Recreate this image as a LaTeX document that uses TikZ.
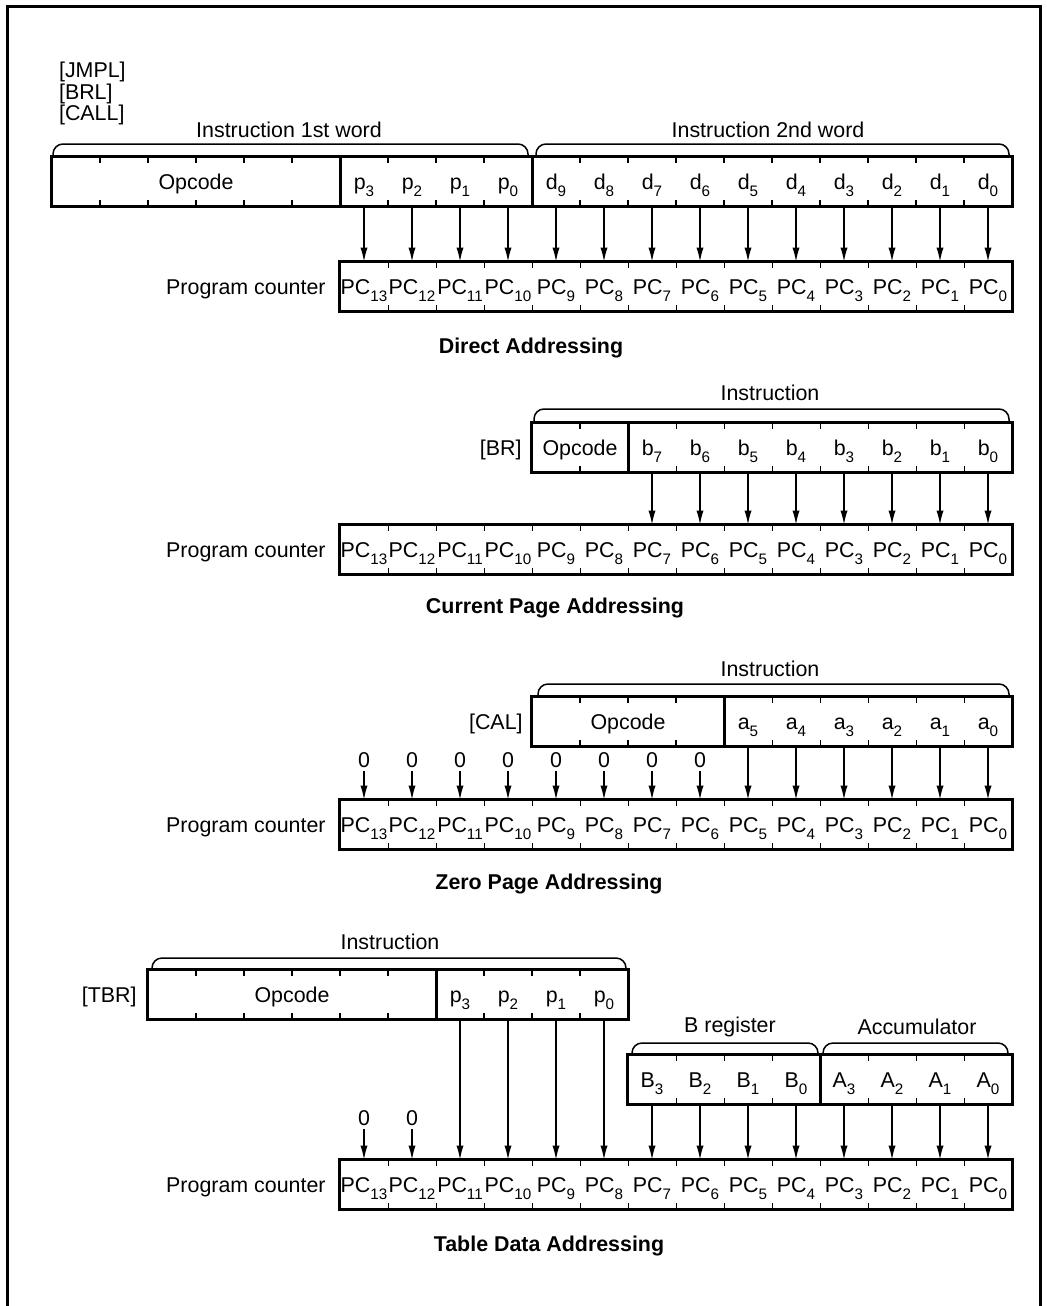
\documentclass[tikz,border=0pt]{standalone}
\usepackage{fontspec}
\setmainfont{Liberation Sans}
\usetikzlibrary{arrows.meta}

% 下标: 比 \textsubscript 大一些, 位置更低
\newcommand{\bitsub}[1]{\raisebox{-0.6ex}{\fontsize{7.6}{9}\selectfont #1}}

\tikzset{
  frame/.style={line width=1.5pt},
  regbox/.style={line width=1.25pt},
  tickmark/.style={line width=0.6pt},
  brace/.style={line width=0.75pt, rounded corners=5pt},
  arr/.style={line width=0.7pt, -{Latex[length=7pt,width=3.6pt]}},
  cell/.style={inner sep=0pt, minimum width=24pt, minimum height=24.5pt, text height=8pt, text depth=0pt},
  zero/.style={inner sep=1.5pt},
  rowlabel/.style={anchor=base east, inner sep=0pt},
  title/.style={font=\fontsize{10.7}{12.8}\selectfont\bfseries},
}

\begin{document}
\begin{tikzpicture}[x=0.5pt, y=-0.5pt, font=\fontsize{10.7}{12.8}\selectfont]
            \useasboundingbox (0,0) rectangle (1046,1306);

            % 外框
            \draw[frame] (7,1306) -- (7,6) -- (1040,6) -- (1040,1306);

            % ---------------- Direct Addressing ----------------
            \node[anchor=west] (jmpl) at (52,72) {[JMPL]};
            \node[anchor=west] (brl) at (52,94) {[BRL]};
            \node[anchor=west] (call) at (52,115) {[CALL]};
            \node (wordA) at (289,130) {Instruction 1st word};
            \node (wordB) at (768,130) {Instruction 2nd word};
            \draw[brace] (53,157) -- (53,144) -- (528,144) -- (528,157);
            \draw[brace] (536,157) -- (536,144) -- (1009,144) -- (1009,157);

            % 指令字
            \node[cell, minimum width=144pt] (opA) at (196,181.5) {Opcode};
            \foreach \b [count=\c from 0] in {3,2,1,0} {
                \node[cell] (p-\b) at ({364+48*\c},181.5) {p\bitsub{\b}};
            }
            \foreach \b [count=\c from 0] in {9,8,7,6,5,4,3,2,1,0} {
                \node[cell] (d-\b) at ({556+48*\c},181.5) {d\bitsub{\b}};
            }
            \draw[regbox] (opA.north west) rectangle (d-0.south east);
            \draw[regbox] (opA.north east) -- (opA.south east);
            \draw[regbox] (p-0.north east) -- (p-0.south east);
            \foreach \x in {100,148,196,244,292,388,436,484,580,628,676,724,772,820,868,916,964} {
                \draw[tickmark] (\x,157) -- (\x,163);
                \draw[tickmark] (\x,206) -- (\x,200);
            }

            % 程序计数器
            \node[rowlabel] (pclA) at (326,294.5) {Program counter};
            \foreach \k in {0,...,13} {
                \node[cell] (pcA-\k) at ({364+48*(13-\k)},286.5) {PC\bitsub{\k}};
            }
            \draw[regbox] (pcA-13.north west) rectangle (pcA-0.south east);
            \foreach \k in {1,...,13} {
                \draw[tickmark] (pcA-\k.north east) -- ++(0,6);
                \draw[tickmark] (pcA-\k.south east) -- ++(0,-6);
            }

            % 箭头
            \foreach \b/\k in {3/13,2/12,1/11,0/10} {
                \draw[arr] (p-\b.south) -- (pcA-\k.north);
            }
            \foreach \b in {0,...,9} {
                \draw[arr] (d-\b.south) -- (pcA-\b.north);
            }
            \node[title] (titleA) at (531,348) {Direct Addressing};

            % ---------------- Current Page Addressing ----------------
            \node (instB) at (770,393) {Instruction};
            \draw[brace] (534,423) -- (534,409) -- (1009,409) -- (1009,423);
            \node[rowlabel] (br) at (522,455.5) {[BR]};
            \node[cell, minimum width=48pt] (opB) at (580,447.5) {Opcode};
            \foreach \b [count=\c from 0] in {7,6,5,4,3,2,1,0} {
                \node[cell] (b-\b) at ({652+48*\c},447.5) {b\bitsub{\b}};
            }
            \draw[regbox] (opB.north west) rectangle (b-0.south east);
            \draw[regbox] (opB.north east) -- (opB.south east);
            \draw[tickmark] (580,423) -- (580,429);
            \draw[tickmark] (580,472) -- (580,466);
            \foreach \b in {1,...,7} {
                \draw[tickmark] (b-\b.north east) -- ++(0,6);
                \draw[tickmark] (b-\b.south east) -- ++(0,-6);
            }

            \node[rowlabel] (pclB) at (326,557.5) {Program counter};
            \foreach \k in {0,...,13} {
                \node[cell] (pcB-\k) at ({364+48*(13-\k)},549.5) {PC\bitsub{\k}};
            }
            \draw[regbox] (pcB-13.north west) rectangle (pcB-0.south east);
            \foreach \k in {1,...,13} {
                \draw[tickmark] (pcB-\k.north east) -- ++(0,6);
                \draw[tickmark] (pcB-\k.south east) -- ++(0,-6);
            }
            \foreach \b in {0,...,7} {
                \draw[arr] (b-\b.south) -- (pcB-\b.north);
            }
            \node[title] (titleB) at (555,608) {Current Page Addressing};

            % ---------------- Zero Page Addressing ----------------
            \node (instC) at (770,669) {Instruction};
            \draw[brace] (538,697) -- (538,684) -- (1009,684) -- (1009,697);
            \node[rowlabel] (cal) at (523,729.5) {[CAL]};
            \node[cell, minimum width=96pt] (opC) at (628,721.5) {Opcode};
            \foreach \b [count=\c from 0] in {5,4,3,2,1,0} {
                \node[cell] (a-\b) at ({748+48*\c},721.5) {a\bitsub{\b}};
            }
            \draw[regbox] (opC.north west) rectangle (a-0.south east);
            \draw[regbox] (opC.north east) -- (opC.south east);
            \foreach \x in {580,628,676} {
                \draw[tickmark] (\x,697) -- (\x,703);
                \draw[tickmark] (\x,746) -- (\x,740);
            }
            \foreach \b in {1,...,5} {
                \draw[tickmark] (a-\b.north east) -- ++(0,6);
                \draw[tickmark] (a-\b.south east) -- ++(0,-6);
            }

            \node[rowlabel] (pclC) at (326,832.5) {Program counter};
            \foreach \k in {0,...,13} {
                \node[cell] (pcC-\k) at ({364+48*(13-\k)},824.5) {PC\bitsub{\k}};
            }
            \draw[regbox] (pcC-13.north west) rectangle (pcC-0.south east);
            \foreach \k in {1,...,13} {
                \draw[tickmark] (pcC-\k.north east) -- ++(0,6);
                \draw[tickmark] (pcC-\k.south east) -- ++(0,-6);
            }
            % 高位补 0
            \foreach \k in {6,...,13} {
                \node[zero] (zC-\k) at ({364+48*(13-\k)},760) {0};
                \draw[arr] (zC-\k.south) -- (pcC-\k.north);
            }
            \foreach \b in {0,...,5} {
                \draw[arr] (a-\b.south) -- (pcC-\b.north);
            }
            \node[title] (titleC) at (549,884) {Zero Page Addressing};

            % ---------------- Table Data Addressing ----------------
            \node (instD) at (390,942) {Instruction};
            \draw[brace] (152,970) -- (152,958) -- (626,958) -- (626,970);
            \node[rowlabel] (tbr) at (137,1002.5) {[TBR]};
            \node[cell, minimum width=144pt] (opD) at (292,994.5) {Opcode};
            \foreach \b [count=\c from 0] in {3,2,1,0} {
                \node[cell] (tp-\b) at ({460+48*\c},994.5) {p\bitsub{\b}};
            }
            \draw[regbox] (opD.north west) rectangle (tp-0.south east);
            \draw[regbox] (opD.north east) -- (opD.south east);
            \foreach \x in {196,244,292,340,388,484,532,580} {
                \draw[tickmark] (\x,970) -- (\x,976);
                \draw[tickmark] (\x,1019) -- (\x,1013);
            }

            % B 寄存器和累加器
            \node (breg) at (730,1027) {B register};
            \node (accu) at (917,1027) {Accumulator};
            \draw[brace] (632,1055) -- (632,1043) -- (818,1043) -- (818,1055);
            \draw[brace] (823,1055) -- (823,1043) -- (1008,1043) -- (1008,1055);
            \foreach \b [count=\c from 0] in {3,2,1,0} {
                \node[cell] (rb-\b) at ({652+48*\c},1079.5) {B\bitsub{\b}};
                \node[cell] (ac-\b) at ({844+48*\c},1079.5) {A\bitsub{\b}};
            }
            \draw[regbox] (rb-3.north west) rectangle (ac-0.south east);
            \draw[regbox] (rb-0.north east) -- (rb-0.south east);
            \foreach \b in {1,2,3} {
                \draw[tickmark] (rb-\b.north east) -- ++(0,6);
                \draw[tickmark] (rb-\b.south east) -- ++(0,-6);
                \draw[tickmark] (ac-\b.north east) -- ++(0,6);
                \draw[tickmark] (ac-\b.south east) -- ++(0,-6);
            }

            \node[rowlabel] (pclD) at (326,1192.5) {Program counter};
            \foreach \k in {0,...,13} {
                \node[cell] (pcD-\k) at ({364+48*(13-\k)},1184.5) {PC\bitsub{\k}};
            }
            \draw[regbox] (pcD-13.north west) rectangle (pcD-0.south east);
            \foreach \k in {1,...,13} {
                \draw[tickmark] (pcD-\k.north east) -- ++(0,6);
                \draw[tickmark] (pcD-\k.south east) -- ++(0,-6);
            }
            \foreach \k in {12,13} {
                \node[zero] (zD-\k) at ({364+48*(13-\k)},1118) {0};
                \draw[arr] (zD-\k.south) -- (pcD-\k.north);
            }
            \foreach \b/\k in {3/11,2/10,1/9,0/8} {
                \draw[arr] (tp-\b.south) -- (pcD-\k.north);
            }
            \foreach \b/\k in {3/7,2/6,1/5,0/4} {
                \draw[arr] (rb-\b.south) -- (pcD-\k.north);
            }
            \foreach \b in {0,...,3} {
                \draw[arr] (ac-\b.south) -- (pcD-\b.north);
            }
            \node[title] (titleD) at (549,1246) {Table Data Addressing};
        \end{tikzpicture}
\end{document}
